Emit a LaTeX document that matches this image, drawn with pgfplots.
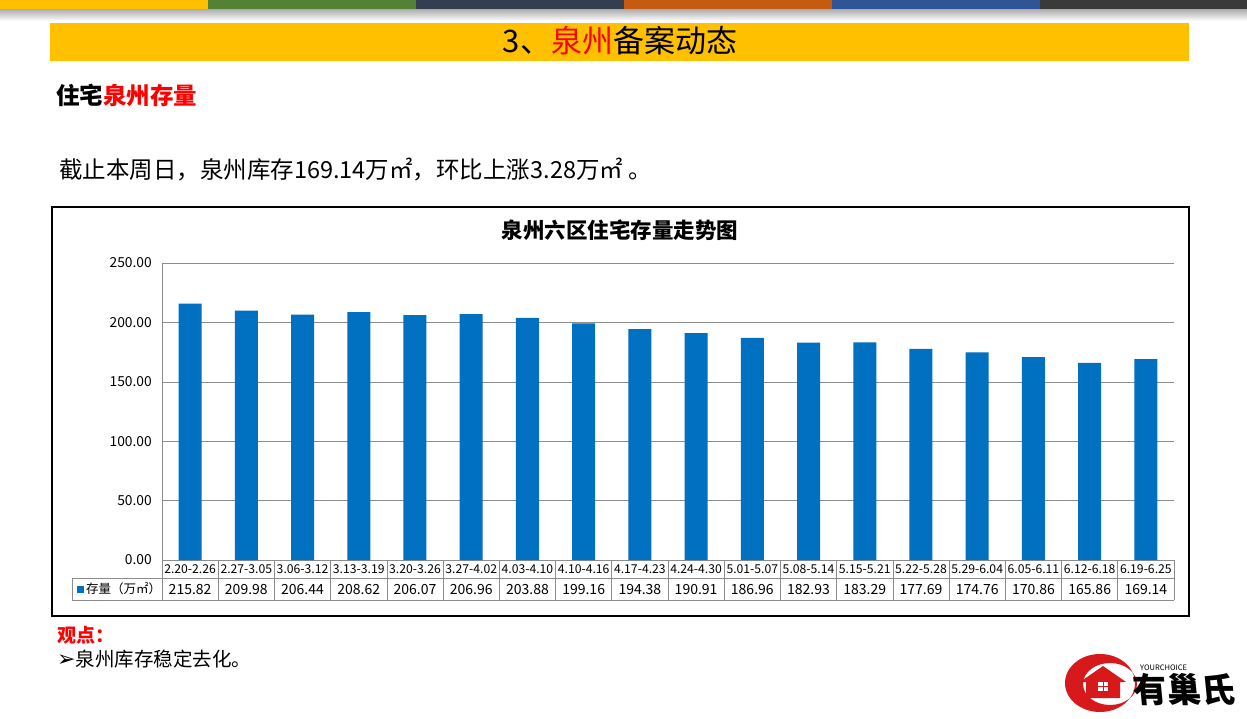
\documentclass[border=0pt]{standalone}
\usepackage{pgfplots}
\pgfplotsset{compat=1.18}
\usepackage{pgfplotstable}
\usepackage{fontspec}
\setmainfont{Noto Sans CJK SC}
\newfontfamily\dejavu{DejaVu Sans}
\definecolor{barblue}{HTML}{0070C0}
\definecolor{gold}{HTML}{FFC000}
\definecolor{sgreen}{HTML}{548235}
\definecolor{snavy}{HTML}{333F50}
\definecolor{sorange}{HTML}{C55A11}
\definecolor{sblue}{HTML}{2F5597}
\definecolor{sgray}{HTML}{3A3A3A}
\definecolor{gridgray}{HTML}{8C8C8C}
\definecolor{tred}{HTML}{FF0000}
\definecolor{logored}{HTML}{D7191C}

\pgfplotstableread{
x v
0 215.82
1 209.98
2 206.44
3 208.62
4 206.07
5 206.96
6 203.88
7 199.16
8 194.38
9 190.91
10 186.96
11 182.93
12 183.29
13 177.69
14 174.76
15 170.86
16 165.86
17 169.14
}\datatable

\begin{document}
\begin{tikzpicture}[x=1pt,y=1pt]
\path[use as bounding box, fill=white] (0,0) rectangle (1247,718);
% top stripes
\fill[gold] (0,708) rectangle (208,718);
\fill[sgreen] (208,708) rectangle (416,718);
\fill[snavy] (416,708) rectangle (624,718);
\fill[sorange] (624,708) rectangle (832,718);
\fill[sblue] (832,708) rectangle (1040,718);
\fill[sgray] (1040,708) rectangle (1247,718);
\shade[top color=black!30, bottom color=white] (0,697) rectangle (1247,708);
% title bar
\fill[gold] (50,657) rectangle (1189,695);
\node[anchor=center, inner sep=0pt, font=\fontsize{31}{31}\selectfont] at (620,677) {3、\textcolor{tred}{泉州}备案动态};
% headings
\node[anchor=west, inner sep=0pt, font=\fontsize{23.5}{24}\selectfont\bfseries] at (56,623) {住宅\textcolor{tred}{泉州存量}};
\node[anchor=west, inner sep=0pt, font=\fontsize{23.5}{24}\selectfont] at (59,548) {截止本周日，泉州库存169.14万㎡，环比上涨3.28万㎡ 。};
% chart frame
\draw[black, line width=1.2pt] (52,102) rectangle (1189,511);
\node[anchor=center, inner sep=0pt, font=\fontsize{21.5}{22}\selectfont\bfseries] at (620,488) {泉州六区住宅存量走势图};

\begin{axis}[
  at={(162pt,158pt)}, anchor=south west,
  scale only axis, width=1012pt, height=297pt,
  xmin=-0.5, xmax=17.5, ymin=0, ymax=250,
  clip=false,
  axis x line*=bottom, axis y line*=left,
  axis line style={draw=gridgray, -},
  ymajorgrids, grid style={draw=gridgray, line width=0.6pt},
  major tick length=0pt,
  ytick={0,50,100,150,200,250},
  xtick={0,...,17},
  xticklabels={{2.20-2.26},{2.27-3.05},{3.06-3.12},{3.13-3.19},{3.20-3.26},{3.27-4.02},{4.03-4.10},{4.10-4.16},{4.17-4.23},{4.24-4.30},{5.01-5.07},{5.08-5.14},{5.15-5.21},{5.22-5.28},{5.29-6.04},{6.05-6.11},{6.12-6.18},{6.19-6.25}},
  xticklabel style={anchor=center, yshift=-9.5pt, inner sep=0pt, font=\fontsize{12.2}{12.5}\selectfont},
  yticklabel style={anchor=east, inner sep=0pt, xshift=-10pt, font=\fontsize{13.8}{14}\selectfont,
     /pgf/number format/.cd, fixed, fixed zerofill, precision=2},
  /pgf/number format/assume math mode=true,
]
\addplot[ybar, bar width=23pt, fill=barblue, draw=none] table[x=x, y=v] {\datatable};
\addplot[draw=none, mark=none, point meta=explicit,
  nodes near coords={\pgfmathprintnumber[fixed,fixed zerofill,precision=2,assume math mode=true]{\pgfplotspointmeta}},
  every node near coord/.append style={anchor=center, inner sep=0pt, yshift=-29.5pt, font=\fontsize{14}{14}\selectfont, text=black}]
  table[x=x, y expr=0, meta=v] {\datatable};
\end{axis}
% data table grid
\foreach \k in {0,...,18} {
  \draw[gridgray, line width=0.6pt] ({162+56.2222*\k},158) -- ({162+56.2222*\k},118);
}
\draw[gridgray, line width=0.6pt] (72,140) -- (1174,140);
\draw[gridgray, line width=0.6pt] (72,118) -- (1174,118);
\draw[gridgray, line width=0.6pt] (72,140) -- (72,118);
\fill[barblue] (77,125.5) rectangle (84,132.5);
\node[anchor=west, inner sep=0pt, font=\fontsize{12.5}{13}\selectfont] at (86,129) {存量（万㎡）};
% viewpoint
\node[anchor=west, inner sep=0pt, font=\fontsize{19}{19}\selectfont\bfseries, text=tred] at (57,83) {观点：};
\node[anchor=west, inner sep=0pt, font=\fontsize{19.5}{20}\selectfont] at (57,59) {{\dejavu\fontsize{22}{22}\selectfont ➢}泉州库存稳定去化。};
% logo
\fill[logored, even odd rule] (1100,35) ellipse [x radius=35, y radius=29] (1110,34) ellipse [x radius=27, y radius=21];
\fill[logored] (1086,20) -- (1086,36) -- (1080,36) -- (1103,52) -- (1126,36) -- (1120,36) -- (1120,20) -- cycle;
\fill[white] (1098,27) rectangle (1108,36);
\fill[logored] (1102.5,27) rectangle (1103.5,36);
\fill[logored] (1098,31) rectangle (1108,32);
\node[anchor=west, inner sep=0pt, font=\fontsize{34}{34}\selectfont\bfseries, xslant=-0.1] at (1133,28) {有巢氏};
\node[anchor=west, inner sep=0pt, font=\fontsize{7.5}{8}\selectfont\itshape] at (1140,50) {YOURCHOICE};
\end{tikzpicture}
\end{document}
